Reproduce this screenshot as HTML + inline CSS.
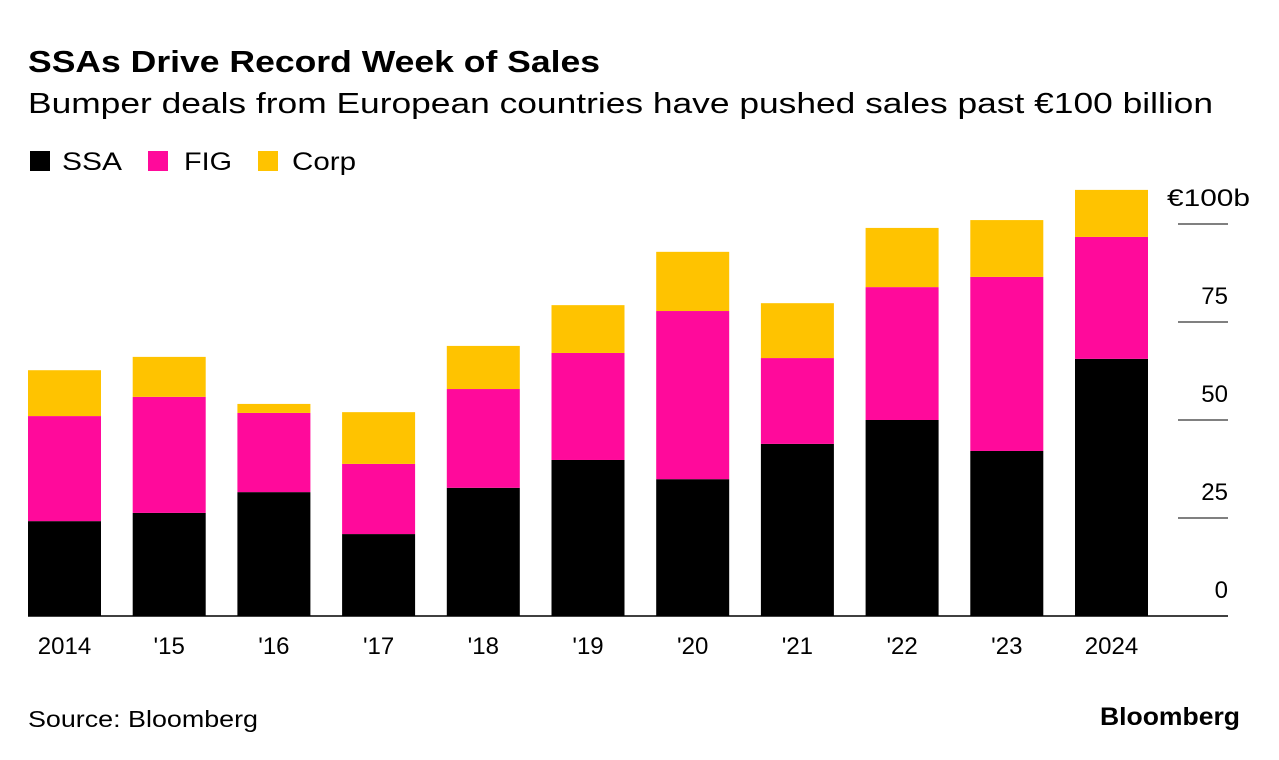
<!DOCTYPE html>
<html><head><meta charset="utf-8"><style>
body{margin:0;background:#fff;font-family:"Liberation Sans",sans-serif;}
svg{display:block}
</style></head><body>
<svg width="1279" height="760" font-family="Liberation Sans, sans-serif">
<text x="28" y="72" font-size="31" font-weight="bold" textLength="572" lengthAdjust="spacingAndGlyphs">SSAs Drive Record Week of Sales</text>
<text x="28" y="113" font-size="29" textLength="1185" lengthAdjust="spacingAndGlyphs">Bumper deals from European countries have pushed sales past €100 billion</text>
<g>
<rect x="30" y="151" width="20" height="20" fill="#000"/>
<text x="62" y="170" font-size="25" textLength="60" lengthAdjust="spacingAndGlyphs">SSA</text>
<rect x="148" y="151" width="20" height="20" fill="#ff0a9b"/>
<text x="184" y="170" font-size="25" textLength="48" lengthAdjust="spacingAndGlyphs">FIG</text>
<rect x="258" y="151" width="20" height="20" fill="#ffc300"/>
<text x="292" y="170" font-size="25" textLength="64" lengthAdjust="spacingAndGlyphs">Corp</text>
</g>
<g id="plot"></g>
<text x="28" y="727" font-size="23" textLength="230" lengthAdjust="spacingAndGlyphs">Source: Bloomberg</text>
<text x="1100" y="725" font-size="25" font-weight="bold" textLength="140" lengthAdjust="spacingAndGlyphs">Bloomberg</text>
</svg>
<script>
const categories=["2014","'15","'16","'17","'18","'19","'20","'21","'22","'23","2024"];
const ssa=[24.2,26.3,31.6,20.9,32.7,39.8,34.9,43.9,50.0,42.1,65.6];
const fig=[26.8,29.6,20.2,17.9,25.2,27.3,42.9,21.9,33.9,44.4,31.1];
const corp=[11.7,10.2,2.3,13.2,11.0,12.2,15.1,14.0,15.1,14.5,12.0];
const ticks=[0,25,50,75,100];
const tickLabels=["0","25","50","75","€100b"];
const NS="http://www.w3.org/2000/svg";
const g=document.getElementById('plot');
const y0=616,pxPer=3.92;
const y=v=>y0-v*pxPer;
const x=i=>28+i*104.7;
const bw=73;
function mk(t,a){const e=document.createElementNS(NS,t);for(const k in a)e.setAttribute(k,a[k]);g.appendChild(e);return e;}
ticks.forEach((t,i)=>{
 if(t>0){const l=mk('line',{x1:1178,x2:1228,y1:y(t),y2:y(t),stroke:'#000','stroke-width':1});
 
 }
 const attrs={x:1228,y:y(t)-18,'font-size':24,'text-anchor':'end'};
 if(t===100){attrs.x=1167;attrs['text-anchor']='start';attrs.textLength=83;attrs.lengthAdjust='spacingAndGlyphs';}
 const tx=mk('text',attrs);
 tx.textContent=tickLabels[i];
 
 
});
categories.forEach((c,i)=>{
 const s=[ssa[i],fig[i],corp[i]],cols=['#000','#ff0a9b','#ffc300'],nm=['ssa','fig','corp'];
 let base=0;
 s.forEach((v,j)=>{
  const r=mk('rect',{x:x(i),y:y(base+v),width:bw,height:v*pxPer,fill:cols[j]});
  
  
  base+=v;
 });
 const t=mk('text',{x:x(i)+bw/2,y:654,'font-size':24,'text-anchor':'middle'});
 t.textContent=c;
 
 
});
const b=mk('line',{x1:28,x2:1228,y1:y0,y2:y0,stroke:'#000','stroke-width':1.5});


</script>
</body></html>
